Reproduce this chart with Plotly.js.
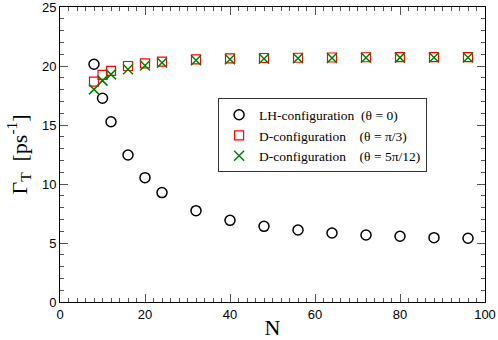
<!DOCTYPE html>
<html>
<head>
<meta charset="utf-8">
<script src="https://cdn.plot.ly/plotly-3.0.1.min.js"></script>
<style>body{margin:0;background:#fff}#plot{width:498px;height:340px}</style>
</head>
<body>
<div id="plot"></div>
<script>
// system sizes N
var sizesN = [8, 10, 12, 16, 20, 24, 32, 40, 48, 56, 64, 72, 80, 88, 96];

// decay rates in ps^-1
var lhTheta0 = [20.15, 17.27, 15.28, 12.46, 10.54, 9.27, 7.74, 6.92, 6.41, 6.10, 5.85, 5.68, 5.57, 5.45, 5.40];
var dThetaPi3 = [18.67, 19.24, 19.58, 20.0, 20.22, 20.37, 20.56, 20.65, 20.68, 20.7, 20.72, 20.74, 20.75, 20.76, 20.76];
var dTheta5Pi12 = [18.02, 18.76, 19.29, 19.72, 20.05, 20.28, 20.48, 20.58, 20.62, 20.65, 20.68, 20.7, 20.71, 20.72, 20.72];

var legendNames = [
  "LH-configuration\u00a0 (\u03b8 = 0)",
  "D-configuration\u00a0\u00a0\u00a0 (\u03b8 = \u03c0/3)",
  "D-configuration\u00a0\u00a0\u00a0 (\u03b8 = 5\u03c0/12)"
];

var traceLH = {
  x: sizesN, y: lhTheta0, name: legendNames[0],
  mode: "markers", type: "scatter",
  marker: {symbol: "circle-open", size: 10, color: "black", line: {width: 1.5}}
};
var tracePi3 = {
  x: sizesN, y: dThetaPi3, name: legendNames[1],
  mode: "markers", type: "scatter",
  marker: {symbol: "square-open", size: 9, color: "red", line: {width: 1.2}}
};
var trace5Pi12 = {
  x: sizesN, y: dTheta5Pi12, name: legendNames[2],
  mode: "markers", type: "scatter",
  marker: {symbol: "x-thin-open", size: 10, color: "green", line: {width: 1.5, color: "green"}}
};
// empty trace so the minor-tick overlay axes get drawn
var minorTickHolder = {x: [], y: [], xaxis: "x2", yaxis: "y2", type: "scatter", mode: "markers", showlegend: false};

var data = [traceLH, tracePi3, trace5Pi12, minorTickHolder];

var tickFont = {family: "Liberation Sans, Arial, sans-serif", size: 13, color: "black"};
var serif = "Liberation Serif, Times New Roman, serif";

var layout = {
  width: 498, height: 340,
  margin: {l: 60, r: 13, t: 7, b: 38},
  showlegend: true,
  legend: {
    x: 0.372, y: 0.69, xanchor: "left", yanchor: "top",
    bordercolor: "#333", borderwidth: 1, bgcolor: "white",
    font: {family: serif, size: 13.5, color: "black"},
    itemwidth: 30, tracegroupgap: 0
  },
  xaxis: {
    range: [0, 100], dtick: 20, ticks: "inside", ticklen: 8, tickwidth: 1, tickcolor: "#555",
    showline: true, linecolor: "black", mirror: "ticks",
    showgrid: false, zeroline: false, tickfont: tickFont, ticklabeloverflow: "allow",
    title: {text: "N", standoff: 2, font: {family: serif, size: 22, color: "black"}}
  },
  yaxis: {
    range: [0, 25], dtick: 5, ticks: "inside", ticklen: 8, tickwidth: 1, tickcolor: "#555",
    showline: true, linecolor: "black", mirror: "ticks",
    showgrid: false, zeroline: false, tickfont: tickFont, ticklabeloverflow: "allow",
    title: {text: "\u0393<sub>T</sub>  [ps<sup>-1</sup>]", standoff: 8, font: {family: serif, size: 22, color: "black"}}
  },
  xaxis2: {
    overlaying: "x", anchor: "y", side: "bottom", range: [0, 100], dtick: 2,
    ticks: "inside", ticklen: 4, tickwidth: 1, tickcolor: "#555", mirror: "ticks",
    showticklabels: false, showgrid: false, zeroline: false, showline: false
  },
  yaxis2: {
    overlaying: "y", anchor: "x", side: "left", range: [0, 25], dtick: 1,
    ticks: "inside", ticklen: 4, tickwidth: 1, tickcolor: "#555", mirror: "ticks",
    showticklabels: false, showgrid: false, zeroline: false, showline: false
  }
};

Plotly.newPlot("plot", data, layout, {staticPlot: true});
</script>
</body>
</html>
